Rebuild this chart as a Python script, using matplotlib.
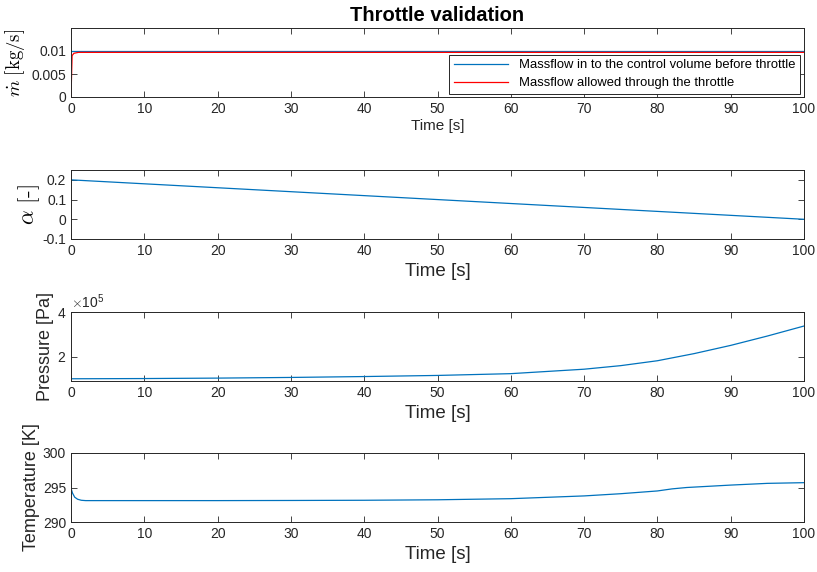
import numpy as np
import matplotlib.pyplot as plt
from matplotlib.ticker import ScalarFormatter

plt.rcParams["font.family"] = ["Liberation Sans", "DejaVu Sans"]
plt.rcParams["mathtext.fontset"] = "cm"

# Massflow (kg/s)
t_in = [0, 100]
m_in = [0.0099, 0.0099]
t_thr = [0, 0.15, 0.4, 1.0, 100]
m_thr = [0.0, 0.0090, 0.0095, 0.0097, 0.0097]

# Throttle opening alpha
t_alpha = [0, 100]
alpha = [0.2, 0.0]

# Pressure (Pa)
t_p = [0, 10, 20, 30, 40, 50, 60, 70, 75, 80, 85, 90, 95, 100]
p = [1.00e5, 1.01e5, 1.03e5, 1.06e5, 1.10e5, 1.15e5, 1.23e5, 1.43e5, 1.59e5,
     1.81e5, 2.13e5, 2.50e5, 2.92e5, 3.37e5]

# Temperature (K)
t_T = [0, 0.2, 0.5, 0.9, 1.4, 2, 10, 20, 30, 40, 50, 60, 70, 75, 80, 82, 84,
       90, 95, 100]
T = [294.9, 294.2, 293.6, 293.3, 293.15, 293.1, 293.1, 293.1, 293.12, 293.15,
     293.22, 293.38, 293.78, 294.1, 294.5, 294.8, 295.0, 295.35, 295.6, 295.7]

blue = "#0072BD"
dark = "#262626"

fig = plt.figure(figsize=(8.17, 5.72), dpi=100)
left, width, height = 71 / 817, 733 / 817, 69 / 572
bottoms = [1 - 97 / 572, 1 - 239 / 572, 1 - 381 / 572, 1 - 522 / 572]
axes = [fig.add_axes([left, b, width, height]) for b in bottoms]

for ax in axes:
    ax.set_xlim(0, 100)
    ax.set_xticks(np.arange(0, 101, 10))
    ax.tick_params(direction="in", top=True, right=True, length=4, width=0.6,
                   colors=dark, labelsize=10, labelcolor=dark)
    for s in ax.spines.values():
        s.set_color(dark)
        s.set_linewidth(0.7)

# Massflow
ax = axes[0]
ax.plot(t_in, m_in, color=blue, lw=0.9,
        label="Massflow in to the control volume before throttle")
ax.plot(t_thr, m_thr, color="red", lw=0.9,
        label="Massflow allowed through the throttle")
ax.set_ylim(0, 0.015)
ax.set_yticks([0, 0.005, 0.01])
ax.set_yticklabels(["0", "0.005", "0.01"])
ax.set_xlabel("Time [s]", fontsize=11, color=dark, labelpad=2)
ax.set_ylabel(r"$\dot{m}\ \mathrm{[kg/s]}$", fontsize=13.5, labelpad=3)
ax.set_title("Throttle validation", fontsize=14.5, fontweight="bold", pad=5)
leg = ax.legend(loc="lower right", fontsize=9.4, handlelength=4.2,
                fancybox=False, framealpha=1, borderpad=0.35,
                labelspacing=0.45, borderaxespad=0,
                bbox_to_anchor=(0.9945, 0.043))
leg.get_frame().set_edgecolor(dark)
leg.get_frame().set_linewidth(0.7)

# Alpha
ax = axes[1]
ax.plot(t_alpha, alpha, color=blue, lw=0.9)
ax.set_ylim(-0.1, 0.25)
ax.set_yticks([-0.1, 0, 0.1, 0.2])
ax.set_yticklabels(["-0.1", "0", "0.1", "0.2"])
ax.set_xlabel("Time [s]", fontsize=13.5, color=dark, labelpad=4)
ax.set_ylabel(r"$\alpha\ [\text{-}]$", fontsize=16.5, labelpad=0)

# Pressure
ax = axes[2]
ax.plot(t_p, p, color=blue, lw=0.9)
ax.set_ylim(0.9e5, 4e5)
ax.set_yticks([2e5, 4e5])
fmt = ScalarFormatter(useMathText=True)
fmt.set_powerlimits((0, 0))
ax.yaxis.set_major_formatter(fmt)
ax.yaxis.get_offset_text().set_fontsize(10)
ax.yaxis.get_offset_text().set_color(dark)
ax.set_xlabel("Time [s]", fontsize=13.5, color=dark, labelpad=4)
ax.set_ylabel("Pressure [Pa]", fontsize=13, color=dark, labelpad=2)

# Temperature
ax = axes[3]
ax.plot(t_T, T, color=blue, lw=0.9)
ax.set_ylim(290, 300)
ax.set_yticks([290, 295, 300])
ax.set_xlabel("Time [s]", fontsize=13.5, color=dark, labelpad=4)
ax.set_ylabel("Temperature [K]", fontsize=13, color=dark, labelpad=2)

fig.savefig("out.png", dpi=100)
